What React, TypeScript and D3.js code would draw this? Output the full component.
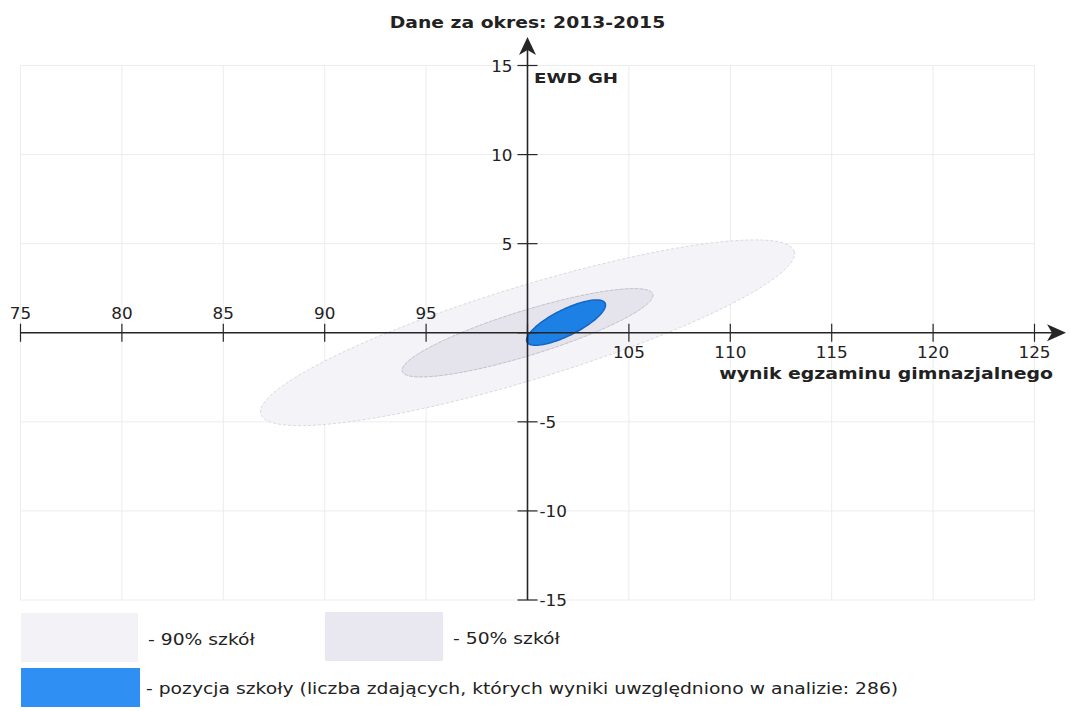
import React from 'react';
import * as d3 from 'd3';

// ---- data ----
const periodLabel = '2013-2015';
const xTicks = [75, 80, 85, 90, 95, 100, 105, 110, 115, 120, 125];
const yTicks = [-15, -10, -5, 0, 5, 10, 15];
const xTickLabels = ['75', '80', '85', '90', '95', '', '105', '110', '115', '120', '125'];
const yTickLabels = ['-15', '-10', '-5', '', '5', '10', '15'];

// regions: 90% of schools, 50% of schools, school position
const regionNames = ['90% szkół', '50% szkół', 'pozycja szkoły'];
const regionCenterX = [100, 100, 101.9];
const regionCenterY = [0, 0, 0.57];
// conjugate semi-axes in data units [dx, dy]
const regionMajor = [[13.15, 4.57], [6.18, 2.17], [1.925, 1.091]];
const regionMinor = [[0.673, -2.505], [0.326, -1.201], [0.288, -0.657]];
const studentsCount = 286;

// ---- styles ----
const fills = ['#f4f3f8', '#e5e4ed', '#1c80e5'];
const strokes = ['#d9d8e0', '#c2c1cc', '#1565c8'];
const legendFills = ['#f3f2f7', '#e9e8f1', '#2f8ff2'];

const W = 1070;
const H = 711;

function SText({ x, y, sx = 1.25, size = 14, weight = 'normal', anchor = 'start', children }: any) {
  return (
    <text
      transform={`translate(${x},${y}) scale(${sx},1)`}
      fontFamily="'DejaVu Sans', sans-serif"
      fontSize={size}
      fontWeight={weight}
      textAnchor={anchor}
      fill="#222"
    >
      {children}
    </text>
  );
}

export default function App() {
  const x = d3.scaleLinear().domain([75, 125]).range([20.5, 1034.5]);
  const y = d3.scaleLinear().domain([-15, 15]).range([600, 65.5]);
  const x0 = x(100);
  const y0 = y(0);

  const steps = d3.range(0, 180);
  const ellipsePath = (k: number) => {
    const pts = steps.map((i) => {
      const t = (i / steps.length) * Math.PI * 2;
      const dx = regionMajor[k][0] * Math.cos(t) + regionMinor[k][0] * Math.sin(t);
      const dy = regionMajor[k][1] * Math.cos(t) + regionMinor[k][1] * Math.sin(t);
      return [x(regionCenterX[k] + dx), y(regionCenterY[k] + dy)] as [number, number];
    });
    return d3.line().curve(d3.curveLinearClosed)(pts) || '';
  };

  const axisColor = '#262626';
  const gridColor = '#ececec';

  return (
    <svg width={W} height={H} style={{ position: 'absolute', left: 0, top: 0, background: '#fff' }}>
      <rect x={0} y={0} width={W} height={H} fill="#fff" />
      {/* grid */}
      {xTicks.map((t) => (
        <line key={'gx' + t} x1={x(t)} x2={x(t)} y1={y(15)} y2={y(-15)} stroke={gridColor} strokeWidth={1} />
      ))}
      {yTicks.map((t) => (
        <line key={'gy' + t} x1={x(75)} x2={x(125)} y1={y(t)} y2={y(t)} stroke={gridColor} strokeWidth={1} />
      ))}

      {/* ellipses */}
      {[0, 1, 2].map((k) => (
        <path
          key={'e' + k}
          d={ellipsePath(k)}
          fill={fills[k]}
          stroke={strokes[k]}
          strokeWidth={k === 2 ? 1.5 : 1}
          strokeDasharray={k === 2 ? undefined : k === 0 ? '3,2' : '4,1'}
        />
      ))}

      {/* x axis */}
      <line x1={x(75)} x2={1058} y1={y0} y2={y0} stroke={axisColor} strokeWidth={1.6} />
      <path
        d={`M1066,${y0} L1047,${y0 - 8.5} L1052,${y0} L1047,${y0 + 8.5} Z`}
        fill={axisColor}
      />
      {xTicks.map((t) => (
        <line key={'xt' + t} x1={x(t)} x2={x(t)} y1={y0 - 9} y2={y0 + 9} stroke={axisColor} strokeWidth={1.2} />
      ))}
      {xTicks.map((t, i) =>
        xTickLabels[i] ? (
          <SText key={'xl' + t} x={x(t)} y={t < 100 ? y0 - 14 : y0 + 25} sx={1.12} size={15} anchor="middle">
            {xTickLabels[i]}
          </SText>
        ) : null
      )}

      {/* y axis */}
      <line x1={x0} x2={x0} y1={y(-15)} y2={46} stroke={axisColor} strokeWidth={1.6} />
      <path d={`M${x0},37 L${x0 - 8.5},55 L${x0},50 L${x0 + 8.5},55 Z`} fill={axisColor} />
      {yTicks.map((t) => (
        <line key={'yt' + t} x1={x0 - 10} x2={x0 + 10} y1={y(t)} y2={y(t)} stroke={axisColor} strokeWidth={1.2} />
      ))}
      {yTicks.map((t, i) =>
        yTickLabels[i] ? (
          <SText
            key={'yl' + t}
            x={t > 0 ? x0 - 15 : x0 + 12}
            y={y(t) + 6}
            sx={1.12}
            size={15}
            anchor={t > 0 ? 'end' : 'start'}
          >
            {yTickLabels[i]}
          </SText>
        ) : null
      )}

      {/* titles */}
      <SText x={527.5} y={28} sx={1.25} size={15} weight="bold" anchor="middle">
        {`Dane za okres: ${periodLabel}`}
      </SText>
      <SText x={534} y={83} sx={1.3} size={14} weight="bold">
        EWD GH
      </SText>
      <SText x={1053} y={379} sx={1.26} size={15} weight="bold" anchor="end">
        wynik egzaminu gimnazjalnego
      </SText>

      {/* legend */}
      <rect x={21} y={613} width={117} height={49} fill={legendFills[0]} />
      <SText x={148} y={645} sx={1.25} size={15}>{`- ${regionNames[0]}`}</SText>
      <rect x={325} y={612} width={118} height={49} fill={legendFills[1]} />
      <SText x={453} y={644} sx={1.25} size={15}>{`- ${regionNames[1]}`}</SText>
      <rect x={21} y={668} width={119} height={39} fill={legendFills[2]} />
      <SText x={146} y={694} sx={1.25} size={15}>
        {`- ${regionNames[2]} (liczba zdających, których wyniki uwzględniono w analizie: ${studentsCount})`}
      </SText>
    </svg>
  );
}
